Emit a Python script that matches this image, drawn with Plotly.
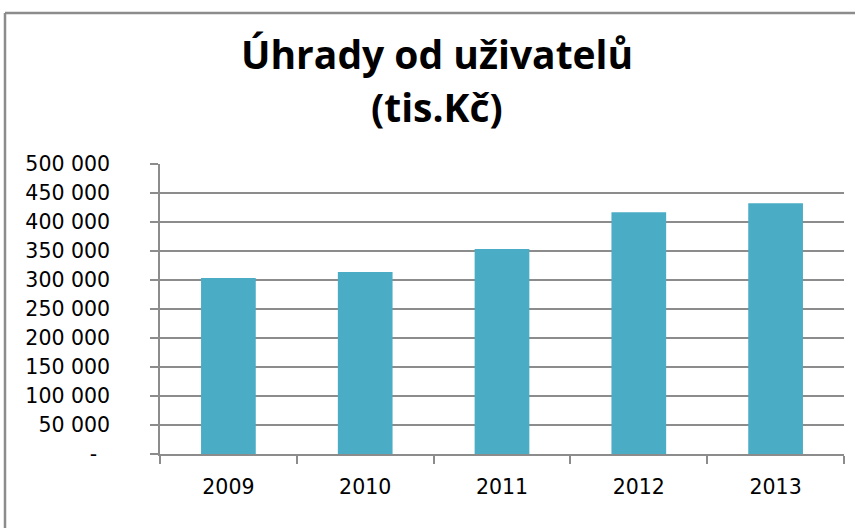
import plotly.graph_objects as go

years = ["2009", "2010", "2011", "2012", "2013"]
values = [303500, 314000, 353500, 417000, 432500]
y_tickvals = [0, 50000, 100000, 150000, 200000, 250000, 300000, 350000, 400000, 450000, 500000]
y_ticktext = ["-\u00a0\u00a0", "50 000", "100 000", "150 000", "200 000", "250 000",
              "300 000", "350 000", "400 000", "450 000", "500 000"]
title_lines = ["Úhrady od uživatelů", "(tis.Kč)"]

W, H = 855, 528
L, R, T, B = 160, 11, 164, 74
pw, ph = W - L - R, H - T - B


def px(x):
    return (x - L) / pw


def py(y):
    return (H - B - y) / ph


fig = go.Figure(go.Bar(x=years, y=values, marker=dict(color="#4BACC6", line=dict(width=0)),
                       width=0.4))

grid = "#8c8c8c"
title_font = dict(family="Open Sans", size=39, color="black", weight="bold")
fig.update_layout(
    width=W, height=H,
    margin=dict(l=L, r=R, t=T, b=B, autoexpand=False),
    paper_bgcolor="white", plot_bgcolor="white",
    showlegend=False,
    font=dict(family="DejaVu Sans", size=20.5, color="black"),
    xaxis=dict(type="category", showline=True, linecolor=grid, linewidth=1.5,
               ticks="outside", ticklen=8, tickcolor=grid, tickwidth=1.5,
               tickson="boundaries", showgrid=False, ticklabelstandoff=14),
    yaxis=dict(range=[0, 500000], tickvals=y_tickvals, ticktext=y_ticktext,
               showline=True, linecolor=grid, linewidth=1.5,
               ticks="outside", ticklen=8, tickcolor=grid, tickwidth=1.5,
               showgrid=True, gridcolor=grid, gridwidth=1.5, zeroline=False,
               ticklabelstandoff=36),
    annotations=[
        dict(text=title_lines[0], xref="paper", yref="paper", x=px(437), y=py(53),
             xanchor="center", yanchor="middle", showarrow=False, font=title_font),
        dict(text=title_lines[1], xref="paper", yref="paper", x=px(437), y=py(106),
             xanchor="center", yanchor="middle", showarrow=False, font=title_font),
    ],
    shapes=[
        dict(type="line", xref="paper", yref="paper",
             x0=px(5), x1=px(W + 20), y0=py(13), y1=py(13),
             line=dict(color=grid, width=2.5)),
        dict(type="line", xref="paper", yref="paper",
             x0=px(5), x1=px(5), y0=py(13), y1=py(H + 20),
             line=dict(color=grid, width=2.5)),
    ],
)

fig.write_html("out.html", config={"displayModeBar": False},
               post_script="document.body.style.margin='0';document.body.style.overflow='hidden';")
